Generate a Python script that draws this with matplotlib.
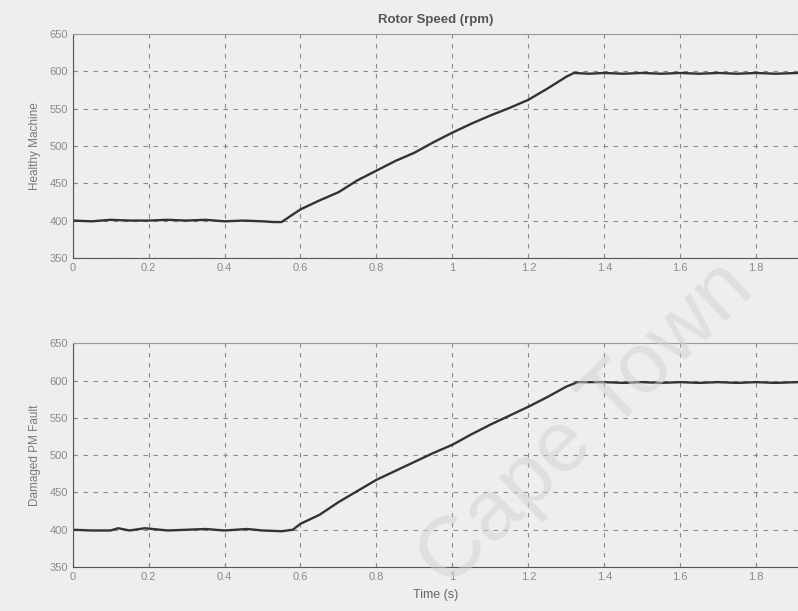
import numpy as np
import matplotlib.pyplot as plt

# time samples (s) and rotor speed (rpm)
t_healthy = [0.0, 0.05, 0.1, 0.15, 0.2, 0.25, 0.3, 0.35, 0.4, 0.45, 0.5, 0.53,
             0.55, 0.6, 0.65, 0.7, 0.75, 0.8, 0.85, 0.9, 0.95, 1.0, 1.05, 1.1,
             1.15, 1.2, 1.25, 1.3, 1.32, 1.36, 1.4, 1.45, 1.5, 1.55, 1.6,
             1.65, 1.7, 1.75, 1.8, 1.85, 1.91]
speed_healthy = [400, 399, 401, 400, 400, 401, 400, 401, 399, 400, 399, 398,
                 398, 415, 427, 438, 454, 467, 480, 491, 505, 518, 530, 541,
                 551, 562, 577, 593, 598, 597, 598, 597, 598, 597, 598,
                 597, 598, 597, 598, 597, 598]

t_damaged = [0.0, 0.05, 0.1, 0.12, 0.15, 0.19, 0.25, 0.3, 0.35, 0.4, 0.46,
             0.5, 0.55, 0.58, 0.6, 0.65, 0.7, 0.75, 0.8, 0.85, 0.9, 0.95,
             1.0, 1.05, 1.1, 1.15, 1.2, 1.25, 1.3, 1.33, 1.4, 1.45, 1.5,
             1.55, 1.6, 1.65, 1.7, 1.75, 1.8, 1.85, 1.91]
speed_damaged = [400, 399, 399, 402, 399, 402, 399, 400, 401, 399, 401,
                 399, 398, 400, 408, 420, 437, 452, 467, 479, 491, 503,
                 514, 528, 541, 553, 565, 578, 592, 598, 598, 597, 598,
                 597, 598, 597, 598, 597, 598, 597, 598]

x_ticks = [0, 0.2, 0.4, 0.6, 0.8, 1, 1.2, 1.4, 1.6, 1.8]
x_labels = ['0', '0.2', '0.4', '0.6', '0.8', '1', '1.2', '1.4', '1.6', '1.8']
y_ticks = [350, 400, 450, 500, 550, 600, 650]

plt.rcParams['font.family'] = ['Liberation Sans', 'DejaVu Sans']

bg = '#eeeeee'
fig = plt.figure(figsize=(7.98, 6.11), dpi=100, facecolor=bg)
ax1 = fig.add_axes([0.091, 0.578, 0.909, 0.366])
ax2 = fig.add_axes([0.091, 0.072, 0.909, 0.366])

panels = [(ax1, t_healthy, speed_healthy, 'Healthy Machine'),
          (ax2, t_damaged, speed_damaged, 'Damaged PM Fault')]

for ax, t, s, lab in panels:
    ax.set_facecolor(bg)
    ax.plot(np.array(t), np.array(s), color='#333333', lw=1.7)
    ax.set_xlim(0, 1.91)
    ax.set_ylim(350, 650)
    ax.set_xticks(x_ticks)
    ax.set_xticklabels(x_labels)
    ax.set_yticks(y_ticks)
    ax.grid(True, color='#8a8a8a', lw=0.8, linestyle=(0, (4, 5)))
    ax.tick_params(labelsize=8, colors='#8a8a8a', length=3, direction='in')
    ax.set_ylabel(lab, fontsize=8.5, color='#7a7a7a', labelpad=6)
    ax.spines['left'].set_color('#555555')
    ax.spines['bottom'].set_color('#555555')
    ax.spines['top'].set_color('#9a9a9a')
    ax.spines['right'].set_visible(False)

ax1.set_title('Rotor Speed (rpm)', fontsize=9.5, fontweight='bold',
              color='#555555', pad=8)
ax2.set_xlabel('Time (s)', fontsize=9, color='#666666', labelpad=5)

# faint watermark across the lower panel
fig.text(0.735, 0.305, 'Cape Town', fontsize=62, rotation=44,
         color='#d0d0d0', alpha=0.5, ha='center', va='center')

fig.savefig('out.png', dpi=100, facecolor=bg)
